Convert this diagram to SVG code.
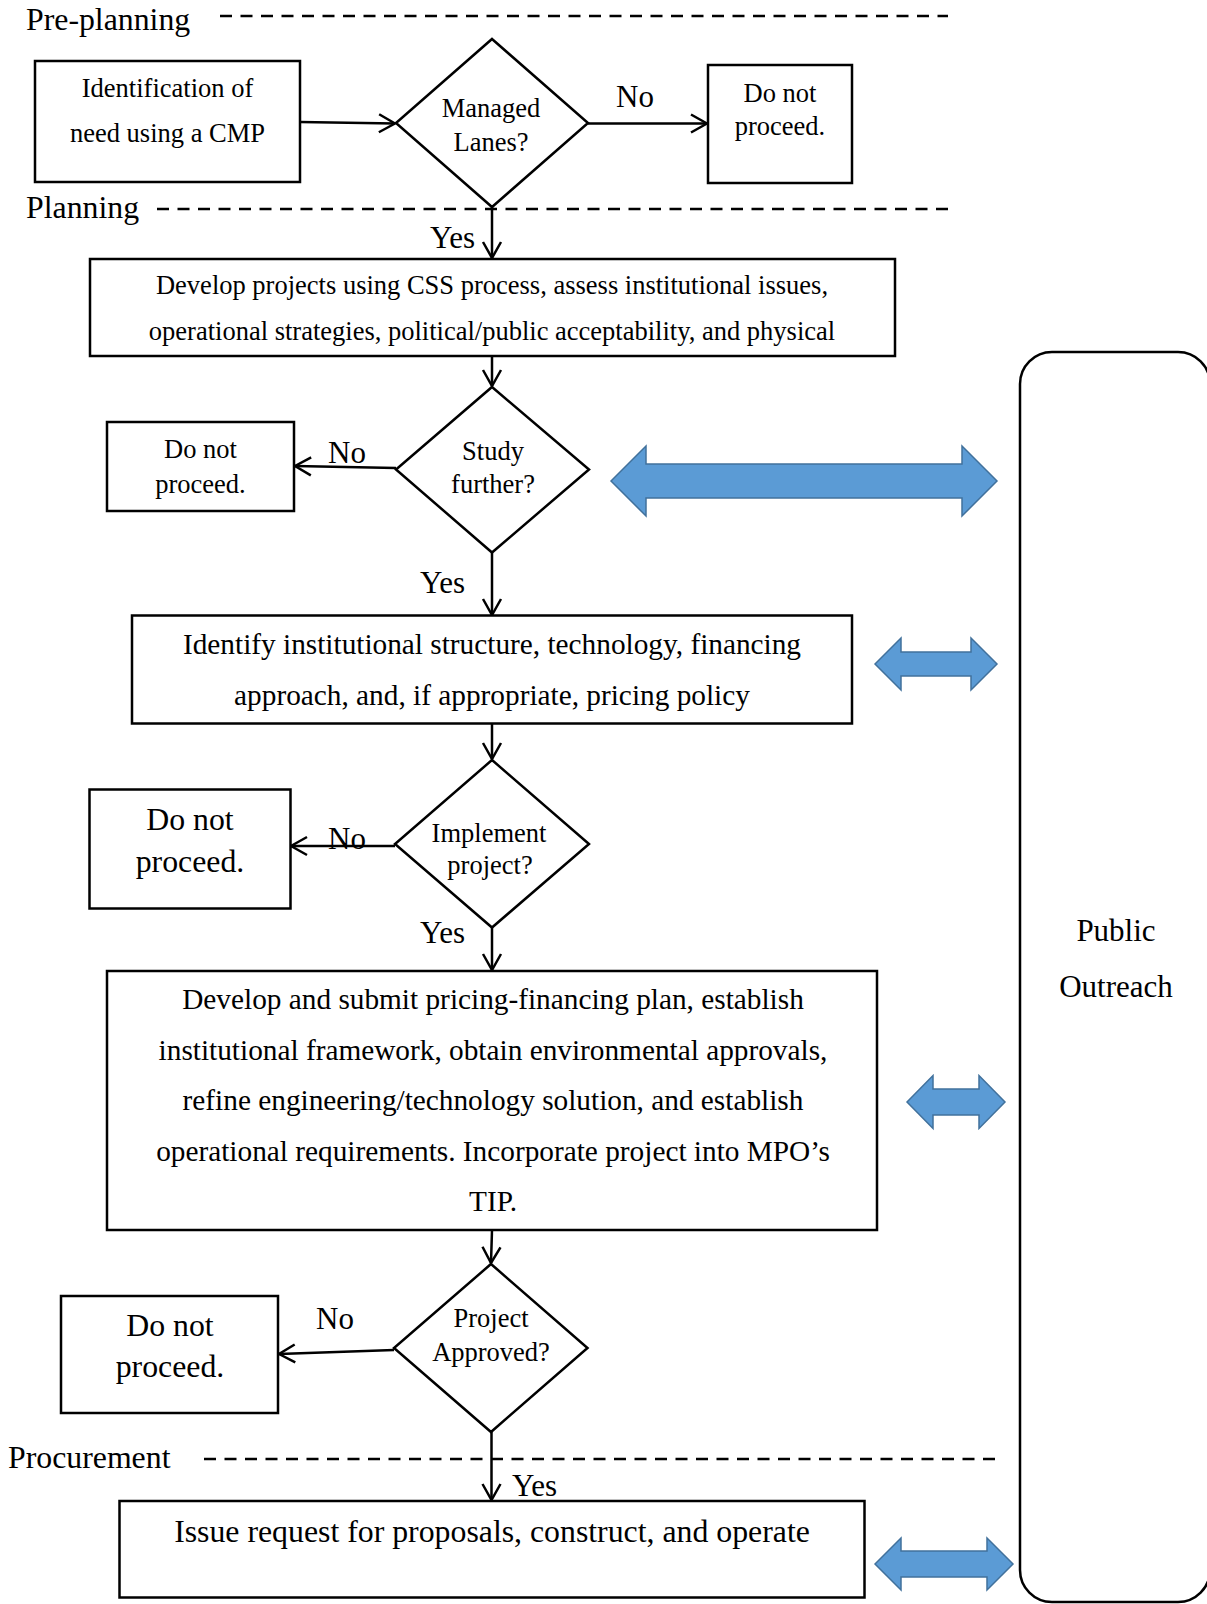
<svg xmlns="http://www.w3.org/2000/svg" width="1207" height="1604" viewBox="0 0 1207 1604">
<style>
text{font-family:"Liberation Serif","Times New Roman",serif;fill:#000}
.c{text-anchor:middle}
.box{fill:#fff;stroke:#000;stroke-width:2.5}
.dia{fill:#fff;stroke:#000;stroke-width:2.5}
.dash{stroke:#000;stroke-width:2.5;stroke-dasharray:12 8.5;fill:none}
.con{stroke:#000;stroke-width:2.5;fill:none;marker-end:url(#ah)}
.blk{fill:#5B9BD5;stroke:#41719C;stroke-width:1.5}
.s26{font-size:26.5px}
.s29{font-size:29.3px}
.s31{font-size:31px}
.s32{font-size:31.8px}
</style>
<defs>
<marker id="ah" viewBox="-20 -12 22 24" markerWidth="22" markerHeight="24" refX="0" refY="0" orient="auto" markerUnits="userSpaceOnUse">
<path d="M-16,-9 L0,0 L-16,9" fill="none" stroke="#000" stroke-width="2.5"/>
</marker>
</defs>
<rect width="1207" height="1604" fill="#fff"/>

<g id="phases">
<text class="s32" x="26" y="30">Pre-planning</text>
<line class="dash" x1="220" y1="16" x2="948" y2="16"/>
<text class="s32" x="26" y="218">Planning</text>
<line class="dash" x1="157" y1="209" x2="948" y2="209"/>
<text class="s32" x="8" y="1468">Procurement</text>
<line class="dash" x1="204" y1="1459" x2="997" y2="1459"/>
</g>

<g id="connectors">
<line class="con" x1="300" y1="122" x2="395" y2="123.5"/>
<line class="con" x1="588" y1="123.5" x2="707" y2="123.5"/>
<line class="con" x1="492" y1="207" x2="492" y2="258"/>
<line class="con" x1="492" y1="356" x2="492" y2="386"/>
<line class="con" x1="396" y1="468" x2="295" y2="466"/>
<line class="con" x1="492" y1="552.5" x2="492" y2="615"/>
<line class="con" x1="492" y1="723.5" x2="492" y2="759"/>
<line class="con" x1="395" y1="846" x2="291" y2="846"/>
<line class="con" x1="492" y1="927.5" x2="492" y2="970"/>
<line class="con" x1="492" y1="1230" x2="491" y2="1263"/>
<line class="con" x1="394" y1="1350" x2="279" y2="1354"/>
<line class="con" x1="491.5" y1="1432" x2="491.5" y2="1500"/>
<text class="s31" x="616" y="107">No</text>
<text class="s31" x="430" y="248">Yes</text>
<text class="s31" x="328" y="463">No</text>
<text class="s31" x="420" y="593">Yes</text>
<text class="s31" x="328" y="849">No</text>
<text class="s31" x="420" y="943">Yes</text>
<text class="s31" x="316" y="1329">No</text>
<text class="s31" x="512" y="1496">Yes</text>
</g>

<g id="n-identification">
<rect class="box" x="35" y="61" width="265" height="121"/>
<text class="s26 c" x="167.5" y="97">Identification of</text>
<text class="s26 c" x="167.5" y="142">need using a CMP</text>
</g>

<g id="n-managed-lanes">
<polygon class="dia" points="492,39 588,123 492,207 396,123"/>
<text class="s26 c" x="491" y="117">Managed</text>
<text class="s26 c" x="491" y="151">Lanes?</text>
</g>

<g id="n-stop-1">
<rect class="box" x="708" y="65" width="144" height="118"/>
<text class="s26 c" x="780" y="102">Do not</text>
<text class="s26 c" x="780" y="135">proceed.</text>
</g>

<g id="n-develop-projects">
<rect class="box" x="90" y="259" width="805" height="97"/>
<text class="s26 c" x="492" y="294">Develop projects using CSS process, assess institutional issues,</text>
<text class="s26 c" x="492" y="340">operational strategies, political/public acceptability, and physical</text>
</g>

<g id="n-study-further">
<polygon class="dia" points="492,387 589,469.5 492,552.5 396,469.5"/>
<text class="s26 c" x="493" y="460">Study</text>
<text class="s26 c" x="493" y="493">further?</text>
</g>

<g id="n-stop-2">
<rect class="box" x="107" y="422" width="187" height="89"/>
<text class="s26 c" x="200.5" y="458">Do not</text>
<text class="s26 c" x="200.5" y="493">proceed.</text>
</g>

<g id="n-identify">
<rect class="box" x="132" y="615.5" width="720" height="108"/>
<text class="s29 c" x="492" y="654">Identify institutional structure, technology, financing</text>
<text class="s29 c" x="492" y="705">approach, and, if appropriate, pricing policy</text>
</g>

<g id="n-implement">
<polygon class="dia" points="492,760 589,844 492,927.5 395,844"/>
<text class="s26 c" x="489" y="842">Implement</text>
<text class="s26 c" x="490" y="874">project?</text>
</g>

<g id="n-stop-3">
<rect class="box" x="89.5" y="789.5" width="201" height="119"/>
<text class="s32 c" x="190" y="830">Do not</text>
<text class="s32 c" x="190" y="872">proceed.</text>
</g>

<g id="n-develop-submit">
<rect class="box" x="107" y="971" width="770" height="259"/>
<text class="s29 c" x="493" y="1009">Develop and submit pricing-financing plan, establish</text>
<text class="s29 c" x="493" y="1059.5">institutional framework, obtain environmental approvals,</text>
<text class="s29 c" x="493" y="1110">refine engineering/technology solution, and establish</text>
<text class="s29 c" x="493" y="1160.5">operational requirements. Incorporate project into MPO’s</text>
<text class="s29 c" x="493" y="1211">TIP.</text>
</g>

<g id="n-project-approved">
<polygon class="dia" points="491,1264 587.5,1348 491,1432 394,1348"/>
<text class="s26 c" x="491" y="1327">Project</text>
<text class="s26 c" x="491" y="1361">Approved?</text>
</g>

<g id="n-stop-4">
<rect class="box" x="61" y="1296" width="217" height="117"/>
<text class="s32 c" x="170" y="1336">Do not</text>
<text class="s32 c" x="170" y="1377">proceed.</text>
</g>

<g id="n-issue">
<rect class="box" x="119.5" y="1501" width="745" height="96.5"/>
<text class="s32 c" x="492" y="1542">Issue request for proposals, construct, and operate</text>
</g>

<g id="n-public-outreach">
<rect x="1020" y="352" width="190" height="1250" rx="32" ry="32" fill="#fff" stroke="#000" stroke-width="2.5"/>
<text class="s31 c" x="1116" y="941">Public</text>
<text class="s31 c" x="1116" y="997">Outreach</text>
</g>

<g id="outreach-links">
<polygon class="blk" points="611,481 646,446 646,464 962,464 962,446 997,481 962,516 962,498 646,498 646,516"/>
<polygon class="blk" points="875,664 901,638 901,652 971,652 971,638 997,664 971,690 971,676 901,676 901,690"/>
<polygon class="blk" points="907,1102 933,1075.5 933,1089 979,1089 979,1075.5 1005,1102 979,1128.5 979,1115 933,1115 933,1128.5"/>
<polygon class="blk" points="875,1564 901,1538 901,1551 987,1551 987,1538 1013,1564 987,1590 987,1577 901,1577 901,1590"/>
</g>
</svg>
